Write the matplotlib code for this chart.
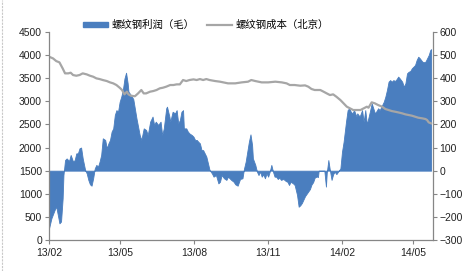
import matplotlib
matplotlib.use("Agg")
import matplotlib.pyplot as plt
import matplotlib.dates as mdates
from matplotlib.patches import Patch
from matplotlib.lines import Line2D
import pandas as pd

plt.rcParams['font.family'] = ['Liberation Sans', 'Noto Sans CJK SC', 'DejaVu Sans']

profit_dates = [
    "2013-02-01", "2013-02-04", "2013-02-08", "2013-02-10", "2013-02-12", "2013-02-14", "2013-02-16", "2013-02-18",
    "2013-02-19", "2013-02-21", "2013-02-23", "2013-02-26", "2013-02-28", "2013-03-03", "2013-03-05", "2013-03-07",
    "2013-03-09", "2013-03-11", "2013-03-13", "2013-03-15", "2013-03-18", "2013-03-20", "2013-03-22", "2013-03-24",
    "2013-03-26", "2013-03-28", "2013-03-30", "2013-04-01", "2013-04-03", "2013-04-05", "2013-04-07", "2013-04-09",
    "2013-04-12", "2013-04-14", "2013-04-16", "2013-04-18", "2013-04-20", "2013-04-22", "2013-04-24", "2013-04-26",
    "2013-04-28", "2013-04-30", "2013-05-02", "2013-05-04", "2013-05-06", "2013-05-08", "2013-05-10", "2013-05-11",
    "2013-05-14", "2013-05-17", "2013-05-21", "2013-05-25", "2013-05-27", "2013-05-30", "2013-06-02", "2013-06-04",
    "2013-06-07", "2013-06-10", "2013-06-12", "2013-06-14", "2013-06-17", "2013-06-20", "2013-06-22", "2013-06-24",
    "2013-06-27", "2013-06-28", "2013-07-01", "2013-07-02", "2013-07-05", "2013-07-08", "2013-07-10", "2013-07-12",
    "2013-07-14", "2013-07-16", "2013-07-18", "2013-07-19", "2013-07-22", "2013-07-24", "2013-07-26", "2013-07-29",
    "2013-07-31", "2013-08-02", "2013-08-04", "2013-08-06", "2013-08-08", "2013-08-10", "2013-08-12", "2013-08-14",
    "2013-08-16", "2013-08-18", "2013-08-20", "2013-08-23", "2013-08-25", "2013-08-28", "2013-08-31", "2013-09-02",
    "2013-09-04", "2013-09-07", "2013-09-10", "2013-09-12", "2013-09-16", "2013-09-19", "2013-09-21", "2013-09-24",
    "2013-09-27", "2013-09-30", "2013-10-02", "2013-10-04", "2013-10-06", "2013-10-08", "2013-10-10", "2013-10-12",
    "2013-10-13", "2013-10-16", "2013-10-18", "2013-10-20", "2013-10-22", "2013-10-24", "2013-10-26", "2013-10-28",
    "2013-10-30", "2013-11-01", "2013-11-03", "2013-11-05", "2013-11-07", "2013-11-09", "2013-11-11", "2013-11-13",
    "2013-11-15", "2013-11-17", "2013-11-20", "2013-11-23", "2013-11-25", "2013-11-27", "2013-11-29", "2013-12-02",
    "2013-12-04", "2013-12-07", "2013-12-09", "2013-12-11", "2013-12-13", "2013-12-15", "2013-12-17", "2013-12-19",
    "2013-12-21", "2013-12-23", "2013-12-25", "2013-12-27", "2013-12-29", "2014-01-01", "2014-01-02", "2014-01-03",
    "2014-01-10", "2014-01-12", "2014-01-13", "2014-01-15", "2014-01-17", "2014-01-19", "2014-01-21", "2014-01-23",
    "2014-01-25", "2014-01-27", "2014-01-30", "2014-02-01", "2014-02-03", "2014-02-05", "2014-02-06", "2014-02-08",
    "2014-02-10", "2014-02-12", "2014-02-14", "2014-02-16", "2014-02-19", "2014-02-20", "2014-02-23", "2014-02-26",
    "2014-02-28", "2014-03-02", "2014-03-04", "2014-03-06", "2014-03-08", "2014-03-10", "2014-03-12", "2014-03-14",
    "2014-03-16", "2014-03-18", "2014-03-20", "2014-03-23", "2014-03-25", "2014-03-27", "2014-03-29", "2014-03-31",
    "2014-04-02", "2014-04-04", "2014-04-06", "2014-04-08", "2014-04-10", "2014-04-12", "2014-04-14", "2014-04-17",
    "2014-04-19", "2014-04-21", "2014-04-23", "2014-04-25", "2014-04-27", "2014-04-29", "2014-05-01", "2014-05-03",
    "2014-05-05", "2014-05-07", "2014-05-09", "2014-05-12", "2014-05-14", "2014-05-16", "2014-05-18", "2014-05-20",
    "2014-05-22", "2014-05-23",
]
profit_values = [
    -250, -206, -170, -155, -192, -228, -220, -120,
    -19, 46, 53, 42, 68, 39, 46, 75,
    75, 97, 100, 53, 3, -12, -40, -59,
    -65, -33, 10, 25, 17, 39, 68, 140,
    133, 97, 118, 133, 169, 183, 241, 262,
    255, 298, 320, 349, 399, 424, 378, 342,
    327, 310, 226, 154, 133, 183, 176, 154,
    212, 234, 198, 212, 198, 212, 154, 183,
    270, 277, 234, 212, 255, 248, 262, 205,
    219, 255, 262, 183, 183, 169, 161, 154,
    147, 133, 133, 125, 118, 89, 89, 75,
    61, 32, 3, -12, -26, -19, -55, -48,
    -19, -33, -40, -26, -40, -48, -59, -65,
    -36, -33, 10, 39, 82, 125, 157, 111,
    53, 25, -4, -19, -4, -26, -16, -33,
    -12, -26, -4, 25, -4, -26, -26, -36,
    -30, -40, -36, -45, -48, -62, -48, -55,
    -62, -105, -156, -150, -140, -125, -110, -100,
    -90, -80, -60, -50, -30, -25, -28, 0,
    0, -69, -10, 46, 0, -40, -15, -5,
    -15, -5, 10, 82, 125, 183, 212, 262,
    270, 255, 248, 262, 234, 248, 234, 262,
    212, 262, 200, 230, 260, 291, 270, 248,
    258, 270, 262, 284, 298, 320, 349, 385,
    392, 385, 392, 388, 396, 407, 399, 385,
    363, 378, 421, 428, 431, 443, 450, 457,
    479, 493, 486, 472, 469, 472, 486, 500,
    522, 526,
]

cost_dates = [
    "2013-02-01", "2013-02-06", "2013-02-10", "2013-02-14", "2013-02-18", "2013-02-21", "2013-02-25", "2013-02-28",
    "2013-03-03", "2013-03-07", "2013-03-11", "2013-03-15", "2013-03-20", "2013-03-24", "2013-03-28", "2013-04-01",
    "2013-04-05", "2013-04-09", "2013-04-14", "2013-04-18", "2013-04-22", "2013-04-26", "2013-04-30", "2013-05-03",
    "2013-05-06", "2013-05-09", "2013-05-11", "2013-05-14", "2013-05-19", "2013-05-23", "2013-05-27", "2013-05-30",
    "2013-06-02", "2013-06-07", "2013-06-11", "2013-06-15", "2013-06-19", "2013-06-23", "2013-06-27", "2013-07-02",
    "2013-07-06", "2013-07-10", "2013-07-14", "2013-07-18", "2013-07-22", "2013-07-26", "2013-07-31", "2013-08-04",
    "2013-08-08", "2013-08-12", "2013-08-16", "2013-08-20", "2013-08-27", "2013-09-02", "2013-09-12", "2013-09-21",
    "2013-09-29", "2013-10-07", "2013-10-11", "2013-10-16", "2013-10-24", "2013-11-01", "2013-11-10", "2013-11-18",
    "2013-11-24", "2013-11-28", "2013-12-04", "2013-12-11", "2013-12-17", "2013-12-21", "2013-12-25", "2013-12-29",
    "2014-01-05", "2014-01-09", "2014-01-13", "2014-01-17", "2014-01-21", "2014-01-25", "2014-01-30", "2014-02-03",
    "2014-02-07", "2014-02-11", "2014-02-15", "2014-02-19", "2014-02-24", "2014-02-28", "2014-03-04", "2014-03-06",
    "2014-03-10", "2014-03-14", "2014-03-18", "2014-03-23", "2014-03-27", "2014-03-31", "2014-04-04", "2014-04-08",
    "2014-04-12", "2014-04-17", "2014-04-21", "2014-04-25", "2014-04-29", "2014-05-03", "2014-05-07", "2014-05-12",
    "2014-05-16", "2014-05-18", "2014-05-20", "2014-05-23",
]
cost_values = [
    3966, 3929, 3871, 3843, 3713, 3605, 3605, 3619,
    3569, 3554, 3569, 3605, 3583, 3554, 3533, 3497,
    3482, 3461, 3439, 3410, 3389, 3353, 3295, 3245,
    3151, 3209, 3151, 3122, 3110, 3172, 3245, 3172,
    3172, 3209, 3223, 3245, 3281, 3295, 3317, 3353,
    3353, 3367, 3367, 3461, 3439, 3461, 3475, 3461,
    3482, 3461, 3482, 3461, 3439, 3425, 3389, 3389,
    3410, 3425, 3461, 3439, 3410, 3410, 3425, 3410,
    3389, 3353, 3353, 3338, 3345, 3317, 3267, 3245,
    3245, 3209, 3172, 3136, 3151, 3100, 3028, 2956,
    2884, 2848, 2812, 2812, 2812, 2848, 2884, 2862,
    2978, 2956, 2920, 2884, 2834, 2812, 2790, 2776,
    2761, 2740, 2718, 2704, 2690, 2668, 2646, 2632,
    2617, 2596, 2545, 2524,
]

left_ticks = [0, 500, 1000, 1500, 2000, 2500, 3000, 3500, 4000, 4500]
right_ticks = [-300, -200, -100, 0, 100, 200, 300, 400, 500, 600]
x_tick_dates = ["2013-02-01", "2013-05-01", "2013-08-01", "2013-11-01", "2014-02-01", "2014-05-01"]
x_tick_labels = ["13/02", "13/05", "13/08", "13/11", "14/02", "14/05"]

profit_label = "螺纹钢利润（毛）"
cost_label = "螺纹钢成本（北京）"

blue = "#4A7EBF"
gray = "#A6A6A6"
axis_gray = "#868686"

pdates = pd.to_datetime(profit_dates)
cdates = pd.to_datetime(cost_dates)

fig = plt.figure(figsize=(4.68, 2.71), dpi=100)
ax = fig.add_axes([49 / 468, 31 / 271, (432.7 - 49) / 468, (240 - 32) / 271])
ax2 = ax.twinx()

# profit area on right axis
ax2.fill_between(pdates, 0, profit_values, color=blue, linewidth=0.6, edgecolor=blue)
ax2.set_ylim(-300, 600)
ax2.set_yticks(right_ticks)

# cost line on left axis (drawn above area)
ax.set_zorder(ax2.get_zorder() + 1)
ax.patch.set_visible(False)
ax.plot(cdates, cost_values, color=gray, linewidth=1.6)
ax.set_ylim(0, 4500)
ax.set_yticks(left_ticks)

ax.set_xlim(pd.Timestamp("2013-02-01"), pd.Timestamp("2014-05-25"))
ax.set_xticks(pd.to_datetime(x_tick_dates))
ax.set_xticklabels(x_tick_labels)

for a in (ax, ax2):
    a.spines['top'].set_visible(False)
    for s in ('left', 'right', 'bottom'):
        a.spines[s].set_color(axis_gray)
        a.spines[s].set_linewidth(0.9)
    a.tick_params(axis='both', direction='out', length=3, width=0.8, color=axis_gray,
                  labelsize=7.5, labelcolor='#222222', pad=2)
ax.spines['right'].set_visible(False)
ax2.spines['left'].set_visible(False)
ax2.spines['bottom'].set_visible(False)
ax.tick_params(axis='x', pad=3)

handles = [Patch(facecolor=blue, edgecolor=blue), Line2D([0], [0], color=gray, linewidth=1.6)]
leg = fig.legend(handles, [profit_label, cost_label], loc='center', ncol=2,
                 bbox_to_anchor=(206 / 468, 1 - 25 / 271), frameon=False,
                 prop={'family': ['Noto Sans CJK SC', 'DejaVu Sans'], 'size': 7.5},
                 handlelength=2.4, handleheight=0.45, handletextpad=0.3, columnspacing=1.2,
                 borderpad=0, borderaxespad=0)

# faint left border of the chart frame
fig.add_artist(Line2D([1.5 / 468, 1.5 / 468], [0, 1], transform=fig.transFigure,
                      color='#C8C8C8', linewidth=0.8, linestyle=(0, (2, 1))))

fig.savefig("out.png", dpi=100)
